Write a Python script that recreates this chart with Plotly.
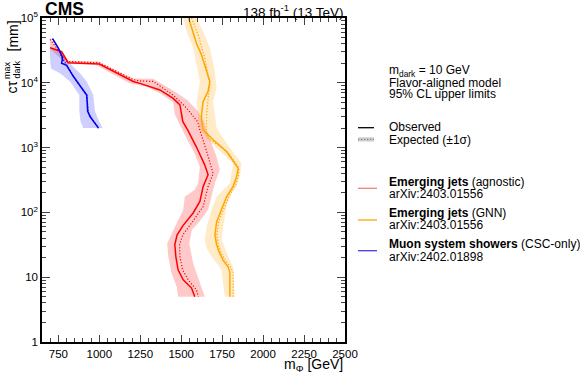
import plotly.graph_objects as go

# ---------------- data ----------------
# Emerging jets (agnostic) - red
red_obs_m = [699, 770, 810, 1000, 1207, 1248, 1370, 1451, 1492, 1502, 1510, 1540, 1593, 1644, 1664,
             1634, 1614, 1573, 1512, 1475, 1461, 1467, 1481, 1512, 1563, 1583]
red_obs_ct = [34700, 30200, 20400, 19500, 10500, 9800, 7760, 5750, 4570, 3240, 2510, 1860, 1020, 537, 380,
              251, 148, 98, 63, 45, 32, 21, 13, 9.1, 6.8, 5.0]
red_exp_m = [699, 801, 1000, 1207, 1248, 1329, 1451, 1533, 1600, 1614, 1660, 1695, 1664, 1634, 1553,
             1510, 1490, 1492, 1508, 1543, 1594, 1604]
red_exp_ct = [46800, 21400, 20400, 11200, 10700, 10500, 6460, 4070, 2510, 1860, 794, 398, 251, 123, 63,
              45, 32, 21, 13, 9.1, 6.3, 5.0]
red_band_lo_m = [699, 801, 973, 1187, 1289, 1370, 1451, 1461, 1502, 1540, 1573, 1614, 1603, 1583, 1522,
                 1512, 1472, 1431, 1414, 1421, 1441, 1472, 1481]
red_band_lo_ct = [33100, 19500, 19100, 9770, 8710, 6920, 5010, 3240, 2000, 1260, 912, 513, 282, 224, 174,
                  110, 68, 42, 33, 21, 11.5, 7.1, 5.0]
red_band_hi_m = [699, 801, 990, 1207, 1329, 1451, 1533, 1603, 1640, 1655, 1716, 1736, 1705, 1685, 1664,
                 1610, 1565, 1549, 1573, 1603, 1644]
red_band_hi_ct = [49000, 21900, 21400, 11700, 11500, 7590, 5500, 3630, 2510, 1860, 724, 457, 282, 174, 110,
                  71, 54, 33, 16.2, 10.2, 5.0]

# Emerging jets (GNN) - orange
gnn_obs_m = [1545, 1573, 1593, 1624, 1655, 1675, 1664, 1634, 1624, 1624, 1634, 1695, 1777, 1848, 1838,
             1817, 1777, 1746, 1716, 1706, 1716, 1730, 1756, 1786, 1797, 1797]
gnn_obs_ct = [100000, 61700, 40700, 26900, 14800, 10500, 7410, 5130, 3240, 2690, 1860, 1320, 871, 479, 355,
              251, 174, 110, 71, 45, 32, 25, 18.2, 14.5, 12.0, 5.0]
gnn_exp_m = [1563, 1603, 1644, 1664, 1675, 1664, 1655, 1655, 1660, 1720, 1795, 1852, 1848, 1828, 1790,
             1758, 1728, 1718, 1726, 1740, 1768, 1800, 1817, 1817]
gnn_exp_ct = [100000, 55000, 24000, 13200, 9330, 5750, 3240, 1780, 1410, 1120, 794, 479, 355, 251, 174,
              110, 71, 45, 32, 25, 18.2, 14.5, 12.0, 5.0]
gnn_band_lo_m = [1512, 1533, 1573, 1603, 1614, 1594, 1603, 1603, 1620, 1685, 1817, 1797, 1716, 1685, 1655,
                 1644, 1655, 1685, 1746, 1766]
gnn_band_lo_ct = [100000, 61700, 34700, 14800, 10500, 5130, 3240, 2510, 1780, 1170, 575, 282, 174, 110, 60,
                  37, 28, 21, 12.9, 5.0]
gnn_band_hi_m = [1594, 1634, 1675, 1705, 1716, 1695, 1705, 1716, 1777, 1868, 1858, 1838, 1807, 1777, 1756,
                 1746, 1756, 1786, 1817, 1827]
gnn_band_hi_ct = [100000, 61700, 34700, 14800, 8320, 5130, 3240, 2000, 1170, 575, 355, 251, 195, 123, 60,
                  37, 33, 21, 14.5, 5.0]

# Muon system showers (CSC-only) - blue
csc_obs_m = [715, 750, 776, 770, 800, 841, 892, 923, 929, 943, 995]
csc_obs_ct = [47900, 34400, 24500, 20000, 18600, 12600, 8320, 6460, 3630, 3020, 2000]
csc_exp_m = [712, 752, 772, 800, 845, 895, 925, 932, 948, 995]
csc_exp_ct = [47900, 33000, 24000, 19000, 12300, 8100, 6300, 3550, 2950, 2000]
csc_band_lo_m = [699, 699, 705, 760, 821, 878, 878, 886, 902]
csc_band_hi_m = [750, 790, 851, 882, 923, 963, 973, 1000, 1020]
csc_band_ct = [33900, 24000, 16600, 14100, 10500, 6460, 3630, 2510, 2000]

x_ticks = [750, 1000, 1250, 1500, 1750, 2000, 2250, 2500]
y_tickvals = [1, 10, 100, 1000, 10000, 100000]
y_ticktext = ["1", "10", "10<sup>2</sup>", "10<sup>3</sup>", "10<sup>4</sup>", "10<sup>5</sup>"]

# ---------------- figure ----------------
FONT = "Liberation Sans, Arial, Helvetica, sans-serif"
RED, ORANGE, BLUE = "#ff0000", "#ffa500", "#0000ee"
RED_BAND, ORANGE_BAND, BLUE_BAND = "rgba(255,0,0,0.21)", "rgba(255,165,0,0.22)", "rgba(30,30,255,0.22)"
DOT = "1.2px,1.8px"

fig = go.Figure()


def band(lo_m, lo_ct, hi_m, hi_ct, color):
    fig.add_trace(go.Scatter(x=list(lo_m) + list(hi_m)[::-1], y=list(lo_ct) + list(hi_ct)[::-1],
                             fill="toself", fillcolor=color, line=dict(width=0),
                             mode="lines", hoverinfo="skip", showlegend=False))


band(red_band_lo_m, red_band_lo_ct, red_band_hi_m, red_band_hi_ct, RED_BAND)
band(gnn_band_lo_m, gnn_band_lo_ct, gnn_band_hi_m, gnn_band_hi_ct, ORANGE_BAND)
band(csc_band_lo_m, csc_band_ct, csc_band_hi_m, csc_band_ct, BLUE_BAND)

for (m, ct, col) in [(red_exp_m, red_exp_ct, RED), (gnn_exp_m, gnn_exp_ct, ORANGE), (csc_exp_m, csc_exp_ct, BLUE)]:
    fig.add_trace(go.Scatter(x=m, y=ct, mode="lines", line=dict(color=col, width=1.2, dash=DOT),
                             showlegend=False))
for (m, ct, col) in [(red_obs_m, red_obs_ct, RED), (gnn_obs_m, gnn_obs_ct, ORANGE), (csc_obs_m, csc_obs_ct, BLUE)]:
    fig.add_trace(go.Scatter(x=m, y=ct, mode="lines", line=dict(color=col, width=1.5),
                             showlegend=False))

# plot area in pixels
L, R, T, B = 42, 345, 18, 342
W, H = 580, 377


def px(x):
    return (x - L) / (R - L)


def py(y):
    return (B - y) / (B - T)


minor_y = [k * 10 ** d for d in range(0, 5) for k in range(2, 10)]

fig.update_layout(
    width=W, height=H,
    margin=dict(l=L, r=W - R, t=T, b=H - B, autoexpand=False),
    paper_bgcolor="white", plot_bgcolor="white",
    font=dict(family=FONT, color="black", size=11),
    showlegend=False,
    xaxis=dict(range=[650, 2500], tickvals=x_ticks, ticks="inside", ticklen=7, tickwidth=1,
               showline=True, linecolor="black", linewidth=1.5, mirror="ticks", showgrid=False,
               zeroline=False, tickfont=dict(size=11.5), automargin=False,
               minor=dict(dtick=50, tick0=0, ticks="inside", ticklen=4, tickwidth=1, showgrid=False)),
    yaxis=dict(type="log", range=[0, 5], tickvals=y_tickvals, ticktext=y_ticktext, ticks="inside",
               ticklen=8, tickwidth=1, showline=True, linecolor="black", linewidth=1.5, mirror="ticks",
               showgrid=False, zeroline=False, tickfont=dict(size=11.5), automargin=False,
               minor=dict(tickmode="array", tickvals=minor_y, ticks="inside", ticklen=4, tickwidth=1,
                          showgrid=False)),
)

ann = []
ann.append(dict(x=px(43), y=py(9), text="<b>CMS</b>", xanchor="left", yanchor="middle",
                font=dict(size=17.5)))
ann.append(dict(x=px(345), y=py(11), text="138 fb<sup>-1</sup> (13 TeV)", xanchor="right",
                yanchor="middle", font=dict(size=13.5)))
ann.append(dict(x=px(345), y=py(365), text="m<sub>Φ</sub> [GeV]", xanchor="right", yanchor="middle",
                font=dict(size=14)))
# y-axis title, stacked super/subscript
ann.append(dict(x=px(12), y=py(96), text="cτ", textangle=-90, xanchor="center", yanchor="bottom",
                font=dict(size=14)))
ann.append(dict(x=px(7), y=py(81), text="max", textangle=-90, xanchor="center", yanchor="bottom",
                font=dict(size=9)))
ann.append(dict(x=px(16.5), y=py(81), text="dark", textangle=-90, xanchor="center", yanchor="bottom",
                font=dict(size=9)))
ann.append(dict(x=px(12), y=py(19), text="[mm]", textangle=-90, xanchor="center", yanchor="top",
                font=dict(size=14)))

TX = 388
for (yy, t) in [(70.5, "m<sub>dark</sub> = 10 GeV"), (82.5, "Flavor-aligned model"),
                (94, "95% CL upper limits"), (127.5, "Observed"), (139.5, "Expected (±1σ)"),
                (181.5, "<b>Emerging jets</b> (agnostic)"), (194, "arXiv:2403.01556"),
                (212.5, "<b>Emerging jets</b> (GNN)"), (225, "arXiv:2403.01556"),
                (243.5, "<b>Muon system showers</b> (CSC-only)"), (256.5, "arXiv:2402.01898")]:
    ann.append(dict(x=px(TX), y=py(yy), text=t, xanchor="left", yanchor="middle",
                    font=dict(size=12), borderpad=0))
for a in ann:
    a.update(xref="paper", yref="paper", showarrow=False)
fig.update_layout(annotations=ann)

shapes = []
shapes.append(dict(type="line", x0=px(358), x1=px(374), y0=py(127.7), y1=py(127.7),
                   line=dict(color="black", width=1.3)))
shapes.append(dict(type="rect", x0=px(358), x1=px(374), y0=py(141.5), y1=py(137.3),
                   fillcolor="#cccccc", line=dict(width=0)))
shapes.append(dict(type="line", x0=px(358), x1=px(374), y0=py(139.4), y1=py(139.4),
                   line=dict(color="#777777", width=1, dash=DOT)))
for (yy, col) in [(188.3, "#f08080"), (220, ORANGE), (250.7, "#4040e0")]:
    shapes.append(dict(type="line", x0=px(358), x1=px(377), y0=py(yy), y1=py(yy),
                       line=dict(color=col, width=1.3)))
for s in shapes:
    s.update(xref="paper", yref="paper")
fig.update_layout(shapes=shapes)

fig.write_html("out.html", config={"displayModeBar": False},
               post_script="document.body.style.margin='0';document.body.style.overflow='hidden';")
